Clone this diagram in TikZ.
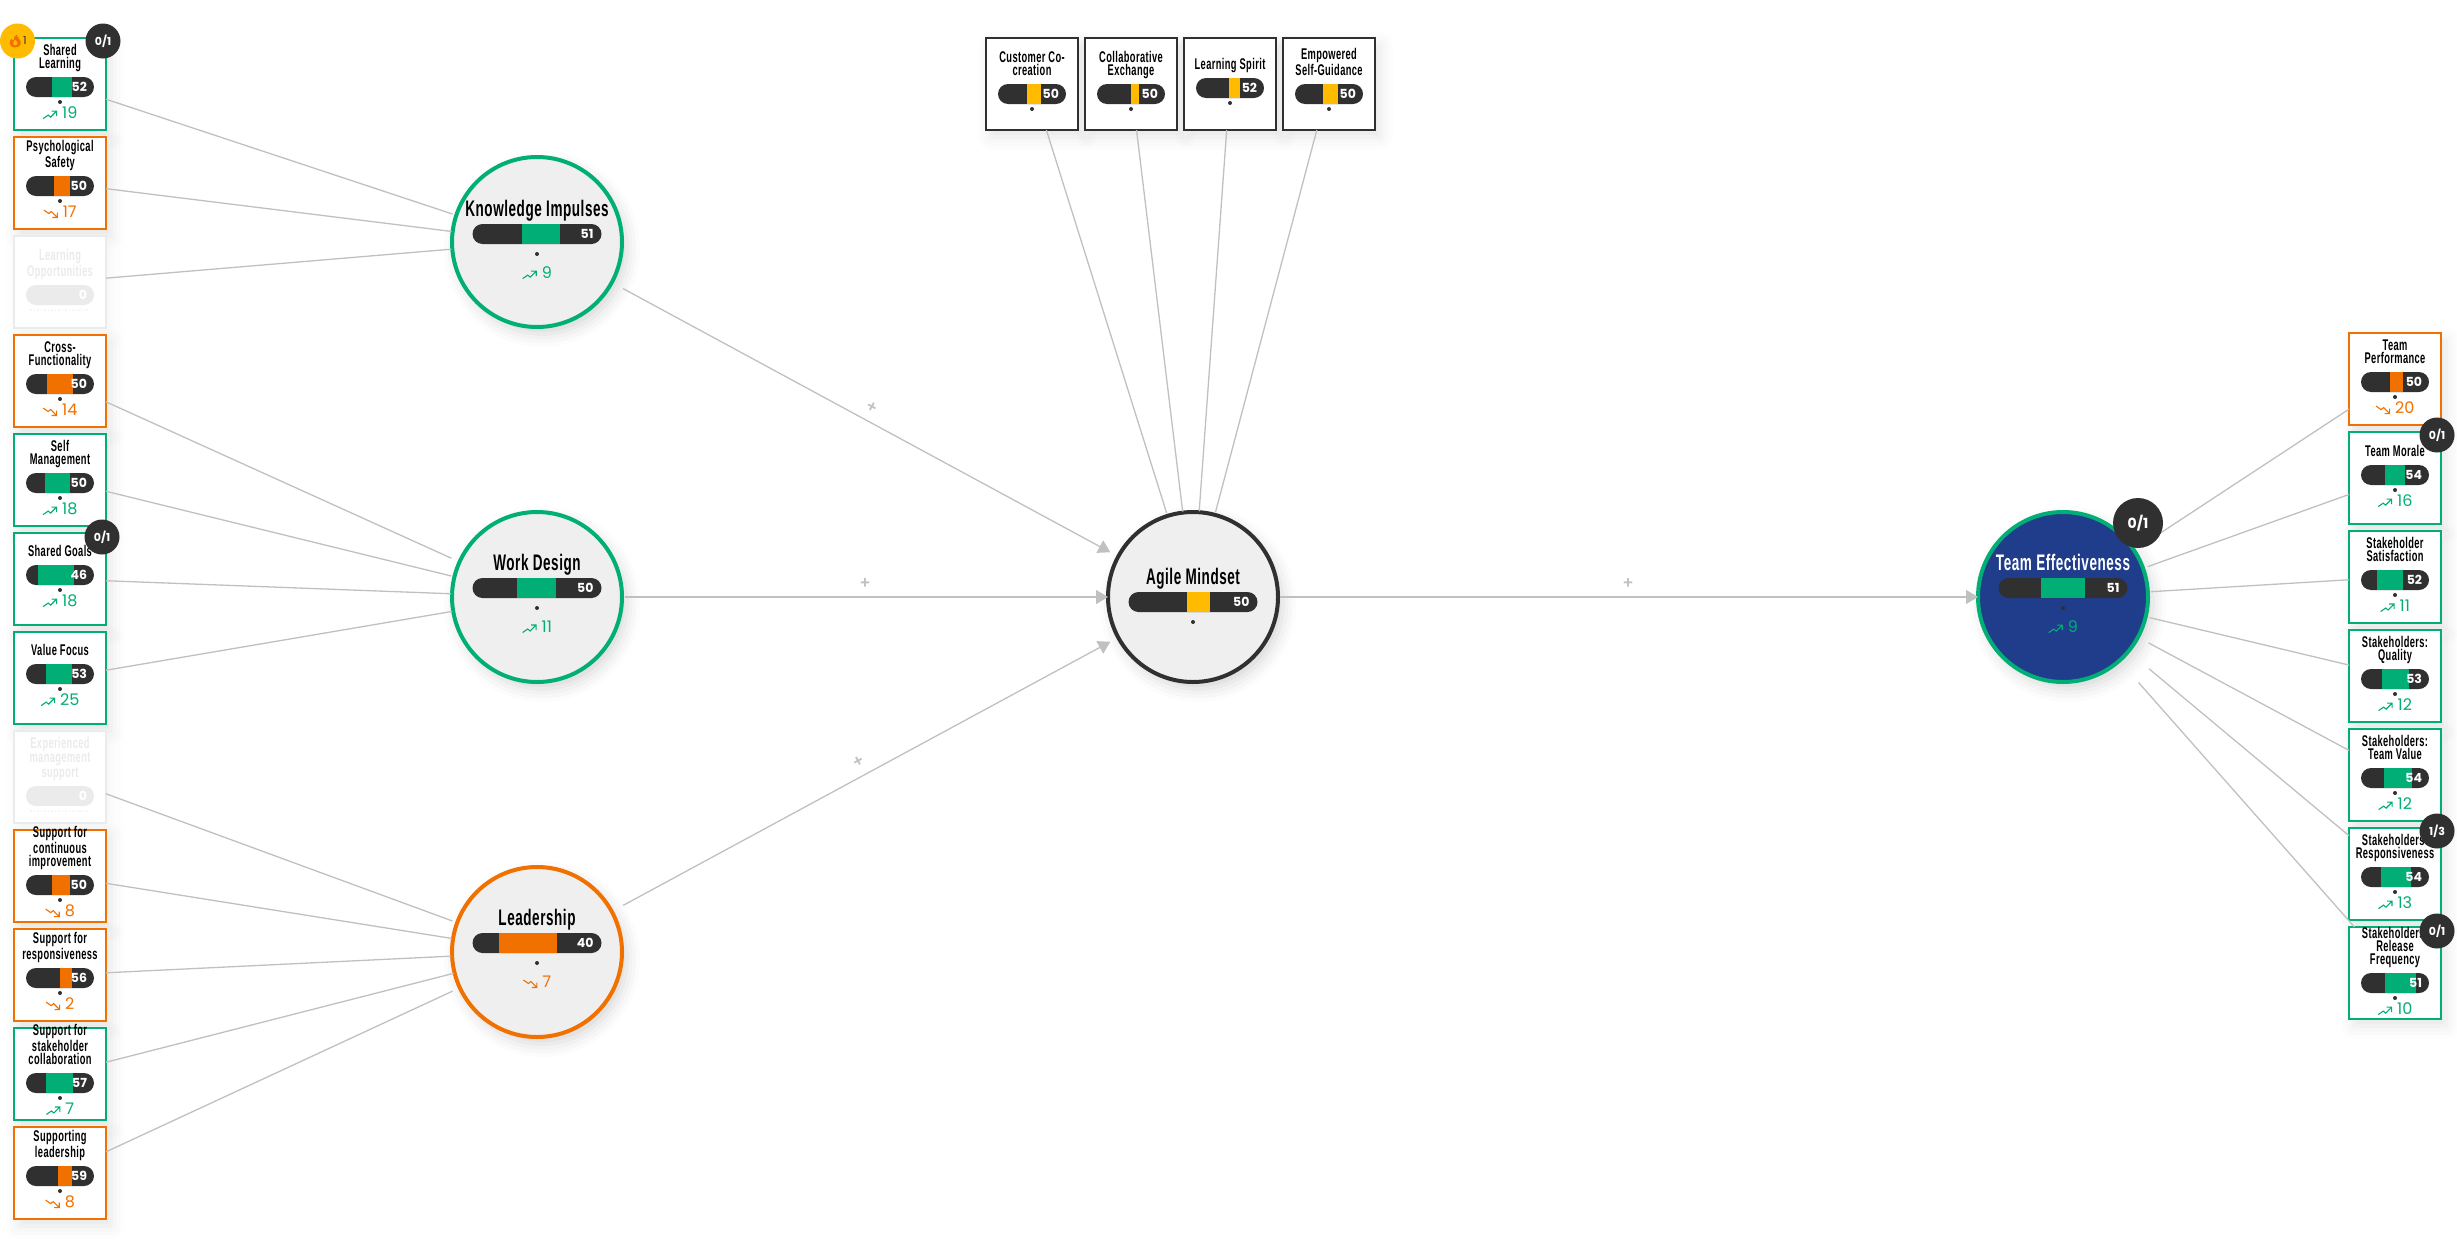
\documentclass[tikz,border=0pt]{standalone}
\usepackage{fontspec}
\usepackage{xcolor}
\usetikzlibrary{positioning}
\usetikzlibrary{arrows.meta}
\usetikzlibrary{shadows.blur}
\newfontfamily\titlefont[FakeStretch=0.6,LetterSpace=2.5]{Liberation Sans}
\newfontfamily\numfont{Poppins}
\newfontfamily\plusfont{Liberation Sans}
\definecolor{kpigreen}{HTML}{00AE76}
\definecolor{kpiorange}{HTML}{F07000}
\definecolor{kpiyellow}{HTML}{FFBB00}
\definecolor{kpidark}{HTML}{303030}
\definecolor{kpipale}{HTML}{EBEBEB}
\definecolor{kpilink}{HTML}{C0C0C0}
\definecolor{kpiblue}{HTML}{1F3D8A}
\definecolor{kpicircle}{HTML}{EFEFEF}
\tikzset{
    softshadow/.style={blur shadow={shadow xshift=5pt, shadow yshift=-7pt, shadow blur radius=13pt, shadow opacity=#1}},
    kpicard/.style={rectangle, line width=2pt, fill=white, minimum size=92pt, inner sep=0pt, outer sep=0pt},
    kpifactor/.style={circle, line width=4pt, fill=kpicircle, minimum size=170pt, inner sep=0pt, outer sep=0pt, softshadow=16},
    pillbar/.style={rectangle, rounded corners=10pt, fill=kpidark, minimum height=20pt, inner sep=0pt, outer sep=0pt},
    pilldot/.style={circle, fill=kpidark, minimum size=4pt, inner sep=0pt, outer sep=0pt},
    cardtitle/.style={font=\titlefont\bfseries\fontsize{15.5}{13}\selectfont, align=center, text=black, inner sep=0pt, outer sep=0pt, text depth=3pt},
    bigtitle/.style={font=\titlefont\bfseries\fontsize{22.5}{22.5}\selectfont, align=center, text=black, inner sep=0pt, outer sep=0pt, text depth=5pt},
    barvalue/.style={font=\numfont\bfseries\fontsize{12.5}{12.5}\selectfont, text=white, inner sep=0pt, outer sep=0pt},
    trendvalue/.style={font=\numfont\fontsize{16}{16}\selectfont, inner sep=0pt, outer sep=0pt},
    badge/.style={circle, fill=kpidark, minimum size=35pt, inner sep=0pt, outer sep=0pt, text=white, font=\numfont\bfseries\fontsize{11}{11}\selectfont},
    link/.style={draw=kpilink, line width=1.3pt},
    flow/.style={link, -{Triangle[length=12pt,width=14pt]}},
    plusmark/.style={font=\plusfont\bfseries\fontsize{17}{17}\selectfont, text=kpilink, inner sep=0pt, outer sep=0pt, sloped, above=9pt}
}
\newcommand{\upicon}{\tikz[baseline=0pt,x=1pt,y=1pt]{\draw[line width=1.1pt,line join=miter] (0,0)--(5,3.5)--(7.5,1.5)--(13,7) (8.5,7.5)--(13.5,7.5)--(13.5,2.5);}\hspace{5pt}}
\newcommand{\downicon}{\tikz[baseline=0pt,x=1pt,y=1pt]{\draw[line width=1.1pt,line join=miter] (0,7.5)--(5,4)--(7.5,6)--(13,0.5) (8.5,0)--(13.5,0)--(13.5,5);}\hspace{5pt}}
\newcommand{\flameicon}{\tikz[baseline=-1pt,x=1pt,y=1pt]{\fill[kpiorange,even odd rule] (0,-4) .. controls (-7,-4) and (-6.5,3) .. (-3.5,5) .. controls (-3.5,3.5) and (-2.5,3) .. (-1.5,3) .. controls (-2,6) and (0,8) .. (1.5,9) .. controls (1.5,6) and (6,4) .. (5.5,0) .. controls (5.3,-2.5) and (3,-4) .. (0,-4) (0,-2) .. controls (-3,-2) and (-3,1.5) .. (0,4) .. controls (3,1.5) and (3,-2) .. (0,-2);}}
% name, options, colour, title, bar offset, segment from, segment to, value, trend
\newcommand{\kpibox}[9]{
    \node[kpicard, softshadow=10, draw=#3, #2] (#1) {};
    \node[pillbar, minimum width=68pt, below=#5pt of #1.north] (#1bar) {};
    \fill[#3] ([xshift=#6pt]#1bar.north west) rectangle ([xshift=#7pt]#1bar.south west);
    \node[cardtitle, above=6pt of #1bar] (#1title) {#4};
    \node[barvalue, left=7pt of #1bar.east] (#1value) {#8};
    \node[pilldot, below=3pt of #1bar.south] (#1dot) {};
    \node[trendvalue, text=#3] (#1trend) at ([yshift=-16pt]#1bar.south) {#9};
}
% name, options, title, bar shift, colour, segment from, segment to, value, trend
\newcommand{\kpifactor}[9]{
    \node[kpifactor, #2] (#1) {};
    \node[pillbar, minimum width=129pt] (#1bar) at ([yshift=#4pt]#1.center) {};
    \fill[#5] ([xshift=#6pt]#1bar.north west) rectangle ([xshift=#7pt]#1bar.south west);
    \node[bigtitle, above=3pt of #1bar] (#1title) {#3};
    \node[barvalue, left=8pt of #1bar.east] (#1value) {#8};
    \node[pilldot, below=8pt of #1bar.south] (#1dot) {};
    \node[trendvalue, text=#5] (#1trend) at ([yshift=-29pt]#1bar.south) {#9};
}
% name, options, title, bar offset
\newcommand{\kpifaded}[4]{
    \node[kpicard, softshadow=4, draw=kpipale, #2] (#1) {};
    \node[pillbar, fill=kpipale, minimum width=68pt, below=#4pt of #1.north] (#1bar) {};
    \node[cardtitle, text=kpipale, above=6pt of #1bar] (#1title) {#3};
    \node[barvalue, left=7pt of #1bar.east] (#1value) {0};
    \draw[kpipale!50, dotted, line width=1.5pt] ([yshift=-5pt,xshift=4pt]#1bar.south west) -- ([yshift=-5pt,xshift=-6pt]#1bar.south east);
}
\begin{document}
\begin{tikzpicture}[x=1pt,y=-1pt]
    \useasboundingbox (0,0) rectangle (2457,1242);

    % left column
    \kpibox{cShared}{at={(60,84)}}{kpigreen}{Shared\\Learning}{39}{26}{46}{52}{\upicon 19}
    \kpibox{cPsych}{below=7pt of cShared}{kpiorange}{Psychological\\Safety}{39}{28}{44}{50}{\downicon 17}
    \kpifaded{cOpportunities}{below=7pt of cPsych}{Learning\\Opportunities}{49}
    \kpibox{cCross}{below=7pt of cOpportunities}{kpiorange}{Cross-\\Functionality}{39}{21}{47}{50}{\downicon 14}
    \kpibox{cSelf}{below=7pt of cCross}{kpigreen}{Self\\Management}{39}{19}{44}{50}{\upicon 18}
    \kpibox{cGoals}{below=7pt of cSelf}{kpigreen}{Shared Goals}{32}{12}{48}{46}{\upicon 18}
    \kpibox{cValue}{below=7pt of cGoals}{kpigreen}{Value Focus}{32}{20}{46}{53}{\upicon 25}
    \kpifaded{cExperienced}{below=7pt of cValue}{Experienced\\management\\support}{55}
    \kpibox{cContinuous}{below=7pt of cExperienced}{kpiorange}{Support for\\continuous\\improvement}{45}{26}{44}{50}{\downicon 8}
    \kpibox{cResponse}{below=7pt of cContinuous}{kpiorange}{Support for\\responsiveness}{39}{34}{46}{56}{\downicon 2}
    \kpibox{cCollab}{below=7pt of cResponse}{kpigreen}{Support for\\stakeholder\\collaboration}{45}{20}{47}{57}{\upicon 7}
    \kpibox{cSupport}{below=7pt of cCollab}{kpiorange}{Supporting\\leadership}{39}{32}{46}{59}{\downicon 8}

    % top row
    \kpibox{cCustomer}{at={(1032,84)}, draw=kpidark}{kpiyellow}{Customer Co-\\creation}{46}{29}{43}{50}{}
    \kpibox{cExchange}{right=7pt of cCustomer, draw=kpidark}{kpiyellow}{Collaborative\\Exchange}{46}{34}{42}{50}{}
    \kpibox{cSpirit}{right=7pt of cExchange, draw=kpidark}{kpiyellow}{Learning Spirit}{40}{33}{44}{52}{}
    \kpibox{cGuidance}{right=7pt of cSpirit, draw=kpidark}{kpiyellow}{Empowered\\Self-Guidance}{46}{28}{43}{50}{}

    % right column
    \kpibox{cPerformance}{at={(2395,379)}}{kpiorange}{Team\\Performance}{39}{29}{42}{50}{\downicon 20}
    \kpibox{cMorale}{below=7pt of cPerformance}{kpigreen}{Team Morale}{33}{24}{44}{54}{\upicon 16}
    \kpibox{cSatisfaction}{below=7pt of cMorale}{kpigreen}{Stakeholder\\Satisfaction}{39}{16}{42}{52}{\upicon 11}
    \kpibox{cQuality}{below=7pt of cSatisfaction}{kpigreen}{Stakeholders:\\Quality}{39}{21}{48}{53}{\upicon 12}
    \kpibox{cTeamValue}{below=7pt of cQuality}{kpigreen}{Stakeholders:\\Team Value}{39}{23}{51}{54}{\upicon 12}
    \kpibox{cResponsive}{below=7pt of cTeamValue}{kpigreen}{Stakeholders:\\Responsiveness}{39}{20}{50}{54}{\upicon 13}
    \kpibox{cRelease}{below=7pt of cResponsive}{kpigreen}{Stakeholders:\\Release\\Frequency}{46}{24}{55}{51}{\upicon 10}

    % factors
    \kpifactor{cKnowledge}{at={(537,242)}, draw=kpigreen}{Knowledge Impulses}{8}{kpigreen}{49}{87}{51}{\upicon 9}
    \kpifactor{cDesign}{at={(537,597)}, draw=kpigreen}{Work Design}{9}{kpigreen}{44}{83}{50}{\upicon 11}
    \kpifactor{cLeadership}{at={(537,952)}, draw=kpiorange}{Leadership}{9}{kpiorange}{26}{84}{40}{\downicon 7}
    \kpifactor{cAgile}{at={(1193,597)}, draw=kpidark}{Agile Mindset}{-5}{kpiyellow}{58}{81}{50}{}
    \kpifactor{cTeam}{at={(2063,597)}, draw=kpigreen, fill=kpiblue}{\color{white}Team Effectiveness}{9}{kpigreen}{42}{86}{51}{\upicon 9}

    % connectors
    \foreach \from/\to/\gap in {cShared/cKnowledge/4, cPsych/cKnowledge/1, cOpportunities/cKnowledge/1,
        cCross/cDesign/9, cSelf/cDesign/3, cGoals/cDesign/1, cValue/cDesign/1,
        cExperienced/cLeadership/5, cContinuous/cLeadership/1, cResponse/cLeadership/1, cCollab/cLeadership/1, cSupport/cLeadership/8,
        cCustomer/cAgile/3, cExchange/cAgile/1, cSpirit/cAgile/1, cGuidance/cAgile/3}
        \draw[link, shorten >=\gap pt] (\from) -- (\to);
    \foreach \to/\gap in {cPerformance/31, cMorale/5, cSatisfaction/3, cQuality/4, cTeamValue/12, cResponsive/27, cRelease/29}
        \draw[link, shorten <=\gap pt] (cTeam) -- (\to);
    \draw[flow, shorten <=13pt, shorten >=9pt] (cKnowledge) -- node[plusmark, midway] (plusKnowledge) {+} (cAgile);
    \draw[flow, shorten <=3pt] (cDesign) -- node[plusmark, midway] (plusDesign) {+} (cAgile);
    \draw[flow, shorten <=13pt, shorten >=9pt] (cLeadership) -- node[plusmark, midway] (plusLeadership) {+} (cAgile);
    \draw[flow, shorten <=2pt] (cAgile) -- node[plusmark, midway] (plusAgile) {+} (cTeam);

    % badges
    \node[badge, fill=kpiyellow, text=kpidark, font=\numfont\fontsize{11}{11}\selectfont] (bFire) at ([xshift=3.5pt,yshift=-3pt]cShared.north west) {\flameicon\,1};
    \node[badge] (bShared) at ([xshift=-3pt,yshift=-3pt]cShared.north east) {0/1};
    \node[badge] (bGoals) at ([xshift=-4pt,yshift=-4pt]cGoals.north east) {0/1};
    \node[badge] (bMorale) at ([xshift=-4pt,yshift=-3pt]cMorale.north east) {0/1};
    \node[badge] (bResponsive) at ([xshift=-4pt,yshift=-3pt]cResponsive.north east) {1/3};
    \node[badge] (bRelease) at ([xshift=-4pt,yshift=-4pt]cRelease.north east) {0/1};
    \node[badge, minimum size=50pt, font=\numfont\bfseries\fontsize{14}{14}\selectfont] (bTeam) at (2138,523) {0/1};
\end{tikzpicture}
\end{document}
